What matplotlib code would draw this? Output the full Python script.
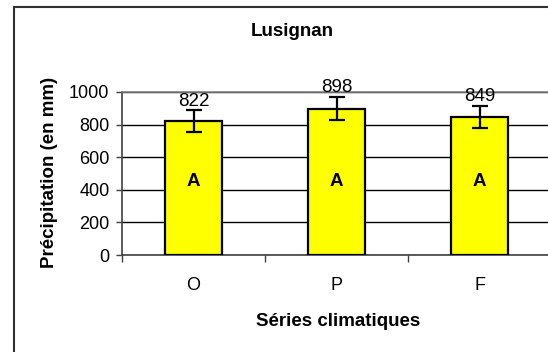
import numpy as np
import matplotlib.pyplot as plt
from matplotlib.patches import Rectangle

##### DATA #####
series = ['O', 'P', 'F']
precip = [822, 898, 849]
precip_err = [66, 72, 68]
groups = ['A', 'A', 'A']

plt.rcParams['font.family'] = ['Liberation Sans', 'DejaVu Sans']

W, H = 548, 352
fig = plt.figure(figsize=(W / 100, H / 100), dpi=100)
ax = fig.add_axes([122 / W, 97 / H, 429 / W, 163 / H])

x = np.arange(len(series))
ax.bar(x, precip, width=0.4, color='#ffff00', edgecolor='black', linewidth=1.6, zorder=3)
ax.errorbar(x, precip, yerr=precip_err, fmt='none', ecolor='black',
            elinewidth=1.6, capsize=6, capthick=1.6, zorder=4)

# value above each error bar, group letter inside the bar
for xi, v, e, g in zip(x, precip, precip_err, groups):
    ax.annotate(str(v), (xi, v + e), xytext=(0, 0.5), textcoords='offset points',
                ha='center', va='bottom', fontsize=13.5)
    ax.text(xi, 450, g, ha='center', va='center', fontsize=13.5, fontweight='bold', zorder=5)

ax.set_xlim(-0.5, 2.5)
ax.set_ylim(0, 1000)
ax.set_yticks(np.arange(0, 1001, 200))
ax.yaxis.grid(True, color='black', linewidth=1.0, zorder=0)
ax.tick_params(axis='y', labelsize=13, length=4, width=1, color='#404040', pad=5)

# category boundaries as tick marks, names centred between them
ax.set_xticks([-0.5, 0.5, 1.5, 2.5])
ax.set_xticklabels([])
ax.set_xticks(x, minor=True)
ax.set_xticklabels(series, minor=True)
ax.tick_params(axis='x', which='major', length=5, width=1, color='#404040')
ax.tick_params(axis='x', which='minor', length=0, labelsize=13, pad=16)

for side in ['top', 'right']:
    ax.spines[side].set_color('#808080')
    ax.spines[side].set_linewidth(1.2)
for side in ['left', 'bottom']:
    ax.spines[side].set_color('#404040')
    ax.spines[side].set_linewidth(1.2)

fig.text(50 / W, 1 - 172 / H, 'Précipitation (en mm)', rotation=90, ha='center',
         va='center', fontsize=13.5, fontweight='bold')
fig.text(338 / W, 1 - 321 / H, 'Séries climatiques', ha='center', va='center',
         fontsize=13.5, fontweight='bold')
fig.text(292 / W, 1 - 32 / H, 'Lusignan', ha='center', va='center',
         fontsize=13.5, fontweight='bold')

# chart frame
fig.patches.append(Rectangle((13.5 / W, -0.1), 1.2, 1.1 - 7 / H,
                             transform=fig.transFigure, fill=False,
                             edgecolor='#303030', linewidth=1.5))

fig.savefig('out.png', dpi=100)
